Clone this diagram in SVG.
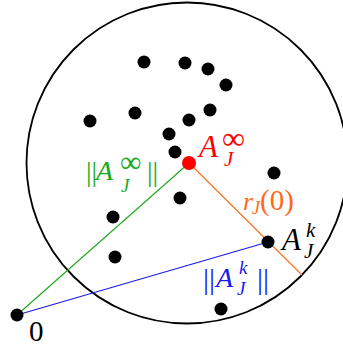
<svg xmlns="http://www.w3.org/2000/svg" width="343" height="351" viewBox="0 0 343 351">
<style>
text{font-family:"Liberation Serif","DejaVu Serif",serif;}
.it{font-style:italic;}
.dot{fill:#000;}
.c{fill:none;stroke:#000;stroke-width:1.8;}
</style>
<rect width="343" height="351" fill="#fff"/>
<g id="circle"><circle class="c" cx="187" cy="163" r="160.5"/></g>
<g id="connectors" stroke-width="1.1" fill="none">
<line x1="17" y1="315" x2="189" y2="163" stroke="#1aaa1a"/>
<line x1="17" y1="315" x2="268" y2="242" stroke="#1a1aee"/>
<line x1="189" y1="163" x2="302" y2="275" stroke="#ff6a1a"/>
</g>
<g id="points">
<circle class="dot" cx="144" cy="62" r="6.5"/>
<circle class="dot" cx="185" cy="63" r="6.5"/>
<circle class="dot" cx="208" cy="69" r="6.5"/>
<circle class="dot" cx="226" cy="85" r="6.5"/>
<circle class="dot" cx="90" cy="121" r="6.5"/>
<circle class="dot" cx="135" cy="113" r="6.5"/>
<circle class="dot" cx="189" cy="120" r="6.5"/>
<circle class="dot" cx="210" cy="110" r="6.5"/>
<circle class="dot" cx="169" cy="134" r="6.5"/>
<circle class="dot" cx="175" cy="152" r="6.5"/>
<circle class="dot" cx="274" cy="173" r="6.5"/>
<circle class="dot" cx="180" cy="198" r="6.5"/>
<circle class="dot" cx="113" cy="217" r="6.5"/>
<circle class="dot" cx="115" cy="257" r="6.5"/>
<circle class="dot" cx="221" cy="309" r="6.5"/>
</g>
<g id="origin"><circle class="dot" cx="17" cy="315" r="6.5"/><text x="29" y="341" font-size="29">0</text></g>
<g id="AJinf"><circle cx="189" cy="163" r="7" fill="#ff0000"/>
<text fill="#ff0000"><tspan class="it" x="199" y="157" font-size="31">A</tspan><tspan x="222" y="149" font-size="32">∞</tspan><tspan class="it" x="224" y="166" font-size="21">J</tspan></text></g>
<g id="AJk"><circle class="dot" cx="268" cy="242" r="6.5"/>
<text fill="#000"><tspan class="it" x="282" y="250" font-size="31">A</tspan><tspan class="it" x="306" y="237" font-size="21">k</tspan><tspan class="it" x="304" y="258" font-size="21">J</tspan></text></g>
<g id="normInf"><text fill="#1aaa1a"><tspan x="86" y="181" font-size="28">||</tspan><tspan class="it" x="96" y="180" font-size="28">A</tspan><tspan x="120" y="172" font-size="30">∞</tspan><tspan class="it" x="121" y="192" font-size="19">J</tspan><tspan x="147" y="181" font-size="28">||</tspan></text></g>
<g id="normK"><text fill="#1a1aee"><tspan x="203" y="289" font-size="30">||</tspan><tspan class="it" x="216" y="287" font-size="28">A</tspan><tspan class="it" x="239" y="274" font-size="19">k</tspan><tspan class="it" x="237" y="295" font-size="19">J</tspan><tspan x="257" y="289" font-size="30">||</tspan></text></g>
<g id="radius"><text fill="#ff6a1a"><tspan class="it" x="243" y="210" font-size="26">r</tspan><tspan class="it" x="252" y="214" font-size="18">J</tspan><tspan x="260" y="210" font-size="29">(0)</tspan></text></g>
</svg>
